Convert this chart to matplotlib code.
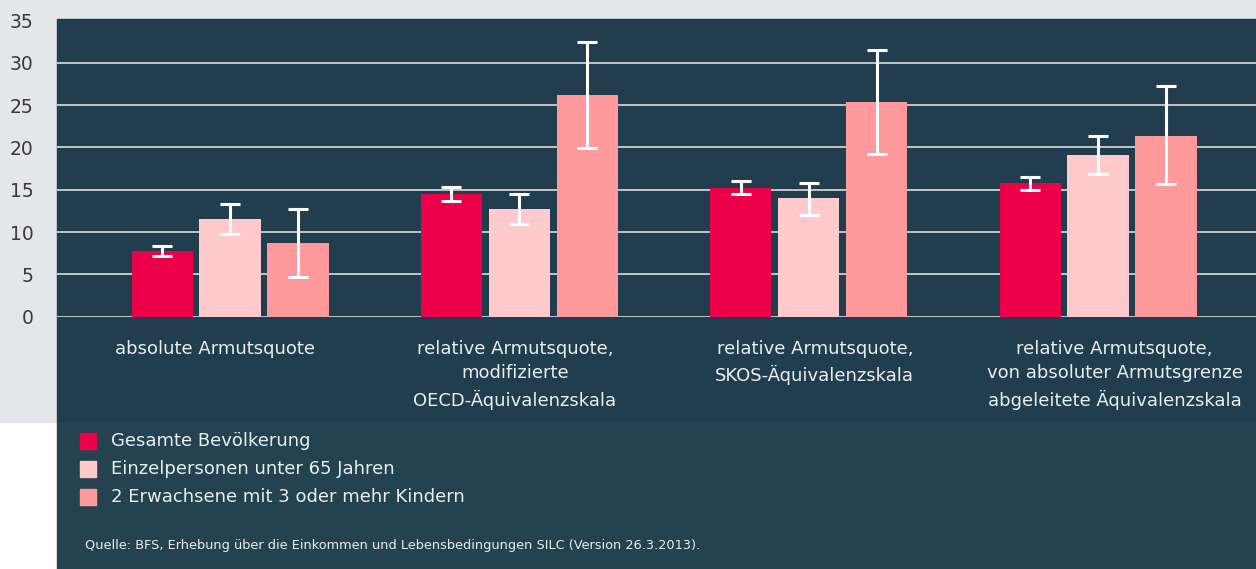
import matplotlib.pyplot as plt
from matplotlib.patches import Rectangle
import numpy as np

# --- data ---
categories = [
    "absolute Armutsquote",
    "relative Armutsquote,\nmodifizierte\nOECD-Äquivalenzskala",
    "relative Armutsquote,\nSKOS-Äquivalenzskala",
    "relative Armutsquote,\nvon absoluter Armutsgrenze\nabgeleitete Äquivalenzskala",
]
series_labels = [
    "Gesamte Bevölkerung",
    "Einzelpersonen unter 65 Jahren",
    "2 Erwachsene mit 3 oder mehr Kindern",
]

gesamt = [7.8, 14.5, 15.2, 15.8]
gesamt_lo = [7.2, 13.65, 14.45, 15.0]
gesamt_hi = [8.3, 15.35, 16.0, 16.55]

einzel = [11.55, 12.75, 14.05, 19.1]
einzel_lo = [9.8, 10.95, 12.0, 16.85]
einzel_hi = [13.3, 14.5, 15.75, 21.3]

familie = [8.7, 26.2, 25.4, 21.35]
familie_lo = [4.7, 19.9, 19.2, 15.7]
familie_hi = [12.7, 32.5, 31.5, 27.2]

yticks = [0, 5, 10, 15, 20, 25, 30, 35]
source_text = "Quelle: BFS, Erhebung über die Einkommen und Lebensbedingungen SILC (Version 26.3.2013)."

# --- style ---
W, H = 1256, 569
colors = ["#eb0049", "#ffcacb", "#ff999c"]
panel_col = "#223d4e"
legend_col = "#24424f"
gray_col = "#e5e6ea"
text_col = "#e9eef1"

plt.rcParams['font.family'] = ['DejaVu Sans']

fig = plt.figure(figsize=(W / 100, H / 100), dpi=100)
fig.patch.set_facecolor("white")

def fx(px):
    return px / W

def fy(py):
    return (H - py) / H

# background blocks
fig.patches.append(Rectangle((0, fy(422)), 1, 422 / H, transform=fig.transFigure,
                             color=gray_col, zorder=-10))
fig.patches.append(Rectangle((fx(57), fy(422)), 1 - fx(57), (422 - 18.7) / H,
                             transform=fig.transFigure, color=panel_col, zorder=-9))
fig.patches.append(Rectangle((fx(57), 0), 1 - fx(57), fy(422), transform=fig.transFigure,
                             color=legend_col, zorder=-9))

ax = fig.add_axes([fx(57), fy(316.7), 1 - fx(57), (316.7 - 18.7) / H])
ax.set_facecolor(panel_col)

x = np.arange(len(categories))
width = 0.211
offset = 0.235

series = [
    (gesamt, gesamt_lo, gesamt_hi),
    (einzel, einzel_lo, einzel_hi),
    (familie, familie_lo, familie_hi),
]
for i, (vals, lo, hi) in enumerate(series):
    vals = np.array(vals)
    yerr = np.vstack([vals - np.array(lo), np.array(hi) - vals])
    xpos = x + (i - 1) * offset
    ax.bar(xpos, vals, width=width, color=colors[i], zorder=3, label=series_labels[i])
    ax.errorbar(xpos, vals, yerr=yerr, fmt='none', ecolor='white', elinewidth=2.2,
                capsize=7, capthick=2.2, zorder=4)

ax.set_xlim(-0.598, 3.546)
ax.set_ylim(0, 35.2)
ax.set_yticks(yticks)
ax.set_xticks([])
ax.yaxis.grid(True, color="#d8dde1", linewidth=1.2, zorder=1)
ax.set_axisbelow(True)
ax.get_ygridlines()[-1].set_visible(False)
ax.tick_params(axis='y', length=0, pad=17, labelsize=13.5, labelcolor="#3a3a3a")
for s in ax.spines.values():
    s.set_visible(False)

# category labels under the axis
for i, cat in enumerate(categories):
    ax.text((i + 0.5) / 4 + 0.007, -0.078, cat, transform=ax.transAxes,
            ha='center', va='top', fontsize=13, color=text_col, linespacing=1.45)

# legend drawn by hand
for i, lab in enumerate(series_labels):
    yc = 441 + 28 * i
    fig.patches.append(Rectangle((fx(80), fy(yc + 8)), 16 / W, 16 / H,
                                 transform=fig.transFigure, color=colors[i]))
    fig.text(fx(111), fy(yc), lab, ha='left', va='center', fontsize=13, color=text_col)

fig.text(fx(85), fy(545), source_text, ha='left', va='center', fontsize=9.3, color=text_col)

fig.savefig("out.png", dpi=100, facecolor=fig.get_facecolor())
